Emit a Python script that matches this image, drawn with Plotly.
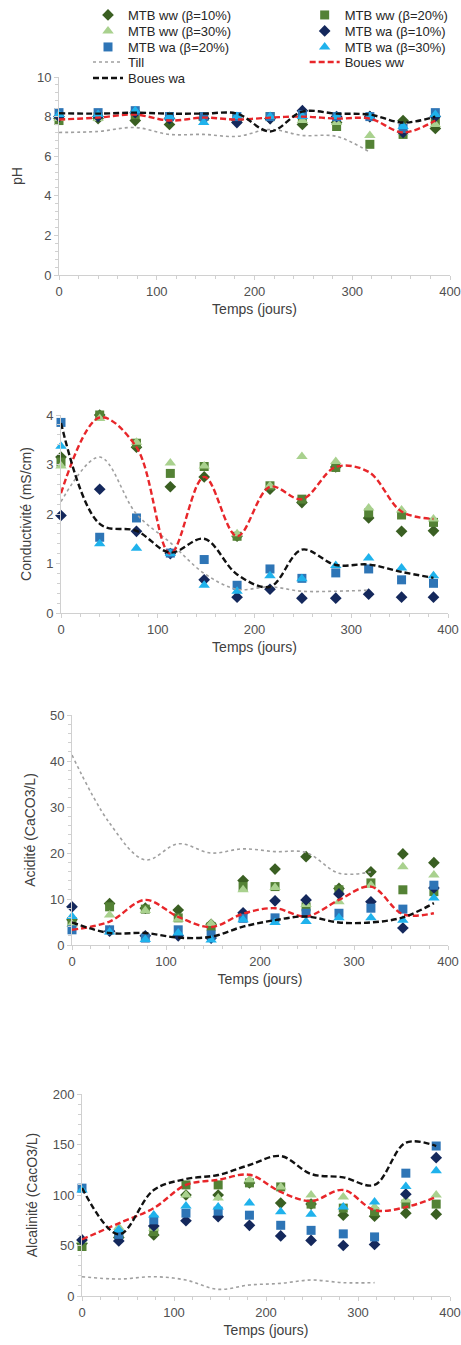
import plotly.graph_objects as go

# ---------------- data ----------------
T = [0, 40, 78, 113, 148, 182, 216, 249, 284, 318, 352, 385]
T_till = [0, 40, 78, 113, 148, 182, 216, 249, 284, 318]

# pH
ph_ww10 = [7.9, 7.9, 7.8, 7.6, 7.9, 7.8, 7.9, 7.6, 7.7, 8.0, 7.8, 7.4]
ph_ww20 = [7.8, 8.0, 8.1, 8.0, 8.0, 7.9, 8.0, 7.9, 7.5, 6.6, 7.1, 7.8]
ph_ww30 = [7.9, 7.9, 8.2, 8.0, 7.9, 7.8, 8.0, 7.8, 7.7, 7.05, 7.2, 7.6]
ph_wa10 = [8.0, 8.0, 8.2, 7.9, 7.9, 7.7, 7.9, 8.3, 8.0, 8.0, 7.2, 8.0]
ph_wa20 = [8.2, 8.2, 8.3, 8.0, 8.0, 8.0, 8.0, 8.1, 8.0, 8.0, 7.4, 8.2]
ph_wa30 = [8.1, 8.1, 8.3, 8.0, 7.7, 8.0, 8.0, 8.0, 8.0, 8.0, 7.5, 8.1]
ph_till = [7.2, 7.25, 7.45, 7.1, 7.1, 7.0, 7.35, 7.05, 7.0, 6.2]
ph_bww = [7.85, 7.95, 8.1, 7.8, 7.95, 7.85, 7.95, 8.0, 7.9, 7.9, 7.2, 7.8]
ph_bwa = [8.17, 8.15, 8.2, 8.15, 8.15, 8.15, 7.25, 8.25, 8.15, 8.1, 7.7, 8.0]

# Conductivite (mS/cm)
co_ww10 = [3.15, 4.0, 3.35, 2.55, 2.75, 1.55, 2.5, 2.23, 2.95, 1.92, 1.65, 1.66]
co_ww20 = [3.05, 4.0, 3.43, 2.82, 2.96, 1.55, 2.57, 2.3, 2.94, 2.02, 1.98, 1.83]
co_ww30 = [2.97, 3.93, 3.45, 3.03, 2.97, 1.6, 2.57, 3.16, 3.06, 2.12, 2.08, 1.9]
co_wa10 = [1.97, 2.5, 1.65, 1.2, 0.67, 0.32, 0.48, 0.3, 0.3, 0.38, 0.32, 0.32]
co_wa20 = [3.85, 1.53, 1.92, 1.21, 1.08, 0.56, 0.89, 0.7, 0.81, 0.89, 0.67, 0.6]
co_wa30 = [3.37, 1.4, 1.31, 1.2, 0.56, 0.44, 0.75, 0.69, 0.96, 1.11, 0.91, 0.75]
co_till = [2.25, 3.15, 2.0, 1.42, 0.8, 0.48, 0.53, 0.44, 0.44, 0.46]
co_bww = [2.42, 3.95, 3.35, 1.2, 2.75, 1.55, 2.55, 2.3, 2.95, 2.85, 2.05, 1.9]
co_bwa = [3.84, 1.8, 1.66, 1.22, 1.5, 0.78, 0.53, 1.28, 0.97, 0.98, 0.83, 0.71]

# Acidite (CaCO3/L)
ac_ww10 = [5.5, 9.0, 8.0, 7.6, 4.5, 14.0, 16.5, 19.2, 12.3, 15.9, 19.8, 17.9]
ac_ww20 = [5.1, 8.3, 7.8, 5.9, 4.0, 12.7, 12.7, 8.3, 12.0, 13.5, 12.0, 11.6]
ac_ww30 = [4.5, 6.5, 7.5, 5.6, 4.7, 12.0, 12.5, 8.8, 9.4, 13.0, 17.0, 15.2]
ac_wa10 = [8.3, 3.0, 2.0, 2.0, 1.5, 7.0, 9.6, 9.8, 11.1, 9.4, 3.7, 12.4]
ac_wa20 = [3.3, 3.3, 1.5, 3.3, 2.2, 5.8, 5.9, 6.9, 6.9, 8.0, 7.8, 13.0]
ac_wa30 = [6.2, 2.8, 1.2, 2.6, 1.1, 5.5, 4.9, 5.1, 5.9, 5.9, 5.4, 10.2]
ac_till = [41.3, 26.5, 18.5, 22.0, 20.0, 20.9, 20.3, 20.1, 15.6, 15.9]
ac_bww = [3.3, 5.1, 9.8, 6.1, 3.9, 6.8, 8.0, 6.2, 9.8, 12.7, 6.7, 6.9]
ac_bwa = [4.9, 2.6, 2.6, 1.6, 1.8, 4.0, 5.4, 6.2, 4.9, 4.9, 6.0, 9.1]

# Alcalinite (CacO3/L)
al_ww10 = [52, 58, 60.5, 100, 100, 112, 92, 91, 80, 79, 82, 81]
al_ww20 = [49, 62, 63.8, 110, 110, 112, 108, 91, 87, 83.5, 91, 91]
al_ww30 = [55, 68, 67, 100, 97, 115, 108, 100, 98, 88, 95, 100]
al_wa10 = [55.5, 54.5, 69.4, 74.5, 78.5, 70, 59.5, 55, 50, 51, 100.8, 137]
al_wa20 = [106.8, 61, 75.4, 82, 84, 80, 70, 65, 61.5, 58.5, 121.6, 148.5]
al_wa30 = [105, 65.5, 80.3, 89, 88, 92, 83.5, 81, 88, 93, 108.4, 124]
al_till = [19.1, 16.8, 19.1, 15.8, 6.6, 10.9, 12.5, 15.8, 13.2, 13.2]
al_bww = [56, 72, 87, 110, 115, 120, 103, 94, 105, 85, 88, 98]
al_bwa = [107, 61, 105, 115.8, 119.8, 129.7, 138.6, 120.8, 117.5, 110, 151.8, 148.5]

names = ["MTB ww (β=10%)", "MTB ww (β=20%)", "MTB ww (β=30%)",
         "MTB wa (β=10%)", "MTB wa (β=20%)", "MTB wa (β=30%)"]
line_names = ["Till", "Boues ww", "Boues wa"]

panels = [
    dict(mk=[ph_ww10, ph_ww20, ph_ww30, ph_wa10, ph_wa20, ph_wa30],
         ln=[ph_till, ph_bww, ph_bwa], ytitle="pH", yr=[0, 10], dt=2, mdt=0.4),
    dict(mk=[co_ww10, co_ww20, co_ww30, co_wa10, co_wa20, co_wa30],
         ln=[co_till, co_bww, co_bwa], ytitle="Conductivité (mS/cm)", yr=[0, 4], dt=1, mdt=0.2),
    dict(mk=[ac_ww10, ac_ww20, ac_ww30, ac_wa10, ac_wa20, ac_wa30],
         ln=[ac_till, ac_bww, ac_bwa], ytitle="Acidité (CaCO3/L)", yr=[0, 50], dt=10, mdt=2),
    dict(mk=[al_ww10, al_ww20, al_ww30, al_wa10, al_wa20, al_wa30],
         ln=[al_till, al_bww, al_bwa], ytitle="Alcalinité (CacO3/L)", yr=[0, 200], dt=50, mdt=10),
]

# ---------------- style ----------------
W, H = 461, 1345
FONT = "Liberation Sans, Arial, sans-serif"
mk_sym = ["diamond", "square", "triangle-up", "diamond", "square", "triangle-up"]
mk_size = [9, 9, 10, 9, 9, 10]
mk_col = ["#3a5f22", "#548235", "#a9d18e", "#14285c", "#2e75b6", "#1fb2ec"]
ln_col = ["#a0a0a0", "#e8262a", "#111111"]
ln_dash = ["dot", "6px,3px", "6px,3px"]
ln_w = [1.6, 2.4, 2.4]

# legend rows (two entries per row), row centre in px from top
legend_ids = ["legend", "legend2", "legend3", "legend4", "legend5"]
row_y = [15, 31, 47, 62, 78]
mk_leg = ["legend", "legend", "legend2", "legend2", "legend3", "legend3"]
ln_leg = ["legend4", "legend4", "legend5"]

# pixel boxes (left, right, top, bottom)
boxes = [(59, 450, 77, 275), (61, 448, 415, 613), (72, 448, 715, 945), (82, 450, 1094, 1296)]

fig = go.Figure()
layout = {}
for i, p in enumerate(panels):
    k = "" if i == 0 else str(i + 1)
    xa, ya = "x" + k, "y" + k
    for j in range(6):
        fig.add_trace(go.Scatter(
            x=T, y=p["mk"][j], mode="markers", name=names[j], legend=mk_leg[j],
            marker=dict(symbol=mk_sym[j], size=mk_size[j], color=mk_col[j], line=dict(width=0)),
            xaxis=xa, yaxis=ya, showlegend=(i == 0), cliponaxis=False))
    for j in range(3):
        xs = T_till if j == 0 else T
        fig.add_trace(go.Scatter(
            x=xs, y=p["ln"][j], mode="lines", name=line_names[j], legend=ln_leg[j],
            line=dict(color=ln_col[j], dash=ln_dash[j], width=ln_w[j], shape="spline", smoothing=1.0),
            xaxis=xa, yaxis=ya, showlegend=(i == 0), cliponaxis=False))
    l, r, t, b = boxes[i]
    layout["xaxis" + k] = dict(
        domain=[l / W, r / W], anchor=ya, range=[0, 400], tickvals=[0, 100, 200, 300, 400],
        showgrid=False, zeroline=False, showline=True, linecolor="#d0d0d0", linewidth=1,
        ticks="outside", ticklen=4, tickcolor="#d0d0d0",
        minor=dict(dtick=20, ticks="outside", ticklen=3, tickcolor="#d0d0d0"),
        tickfont=dict(size=13, color="#505050", family=FONT),
        title=dict(text="Temps (jours)", font=dict(size=14, color="#404040", family=FONT), standoff=6))
    layout["yaxis" + k] = dict(
        domain=[1 - b / H, 1 - t / H], anchor=xa, range=p["yr"], dtick=p["dt"], tick0=0,
        showgrid=False, zeroline=False, showline=True, linecolor="#d0d0d0", linewidth=1,
        ticks="outside", ticklen=4, tickcolor="#d0d0d0",
        minor=dict(dtick=p["mdt"], ticks="outside", ticklen=3, tickcolor="#d0d0d0"),
        tickfont=dict(size=13, color="#505050", family=FONT),
        title=dict(text=p["ytitle"], font=dict(size=14, color="#404040", family=FONT), standoff=11))

for lid, ry in zip(legend_ids, row_y):
    layout[lid] = dict(orientation="h", x=88 / W, xanchor="left", y=1 - ry / H, yanchor="middle",
                       entrywidth=0.47, entrywidthmode="fraction",
                       bgcolor="rgba(0,0,0,0)", font=dict(size=13, color="#262626", family=FONT),
                       itemsizing="trace")

fig.update_layout(
    width=W, height=H,
    margin=dict(l=0, r=0, t=0, b=0, autoexpand=False),
    paper_bgcolor="white", plot_bgcolor="white",
    font=dict(family=FONT, size=13, color="#262626"),
    **layout)

fig.write_html("out.html")
